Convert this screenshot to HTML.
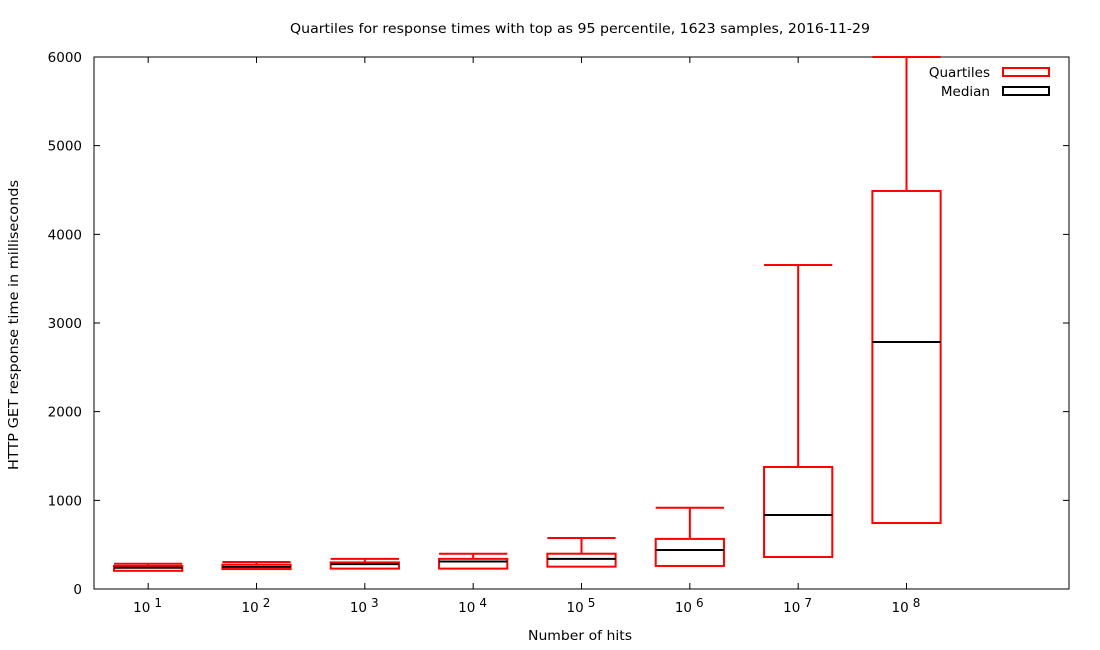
<!DOCTYPE html>
<html><head><meta charset="utf-8">
<style>
body{margin:0;background:#fff;}
svg{display:block;font-family:"DejaVu Sans","Liberation Sans",sans-serif;font-size:13.5px;}
</style></head>
<body>
<svg id="chart" width="1100" height="650" xmlns="http://www.w3.org/2000/svg">
<rect x="0" y="0" width="1100" height="650" fill="#fff"/>
<text x="290" y="33" textLength="580" lengthAdjust="spacingAndGlyphs">Quartiles for response times with top as 95 percentile, 1623 samples, 2016-11-29</text>
<text transform="translate(18,470) rotate(-90)" textLength="290" lengthAdjust="spacingAndGlyphs">HTTP GET response time in milliseconds</text>
<text x="528" y="640" textLength="104" lengthAdjust="spacingAndGlyphs">Number of hits</text>
<g id="axes"></g>
<g id="marks"></g>
<g>
<text x="990" y="77" text-anchor="end">Quartiles</text>
<rect x="1003" y="68" width="46" height="8" fill="none" stroke="#f00" stroke-width="2"/>
<text x="990" y="96" text-anchor="end">Median</text>
<rect x="1003" y="87" width="46" height="8" fill="none" stroke="#000" stroke-width="2"/>
</g>
</svg>
<script>
const exponents=[1,2,3,4,5,6,7,8];
const q1=[205,225,230,230,252,260,361,744];
const median=[240,250,280,310,340,440,835,2786];
const q3=[260,275,300,340,398,565,1376,4489];
const top95=[285,305,340,398,575,917,3654,6000];
const yTicks=[0,1000,2000,3000,4000,5000,6000];

const L=94,R=1069,T=57,B=589;
const xS=v=>L+(v-0.5)/9*(R-L);
const yS=v=>B-v/6000*(B-T);
const NS="http://www.w3.org/2000/svg";
const axes=document.getElementById('axes'),marks=document.getElementById('marks');
function mk(tag,attrs,parent){const e=document.createElementNS(NS,tag);for(const k in attrs)e.setAttribute(k,attrs[k]);parent.appendChild(e);return e;}

const frame=mk('rect',{x:L,y:T,width:R-L,height:B-T,fill:'none',stroke:'#000','stroke-width':1},axes);


yTicks.forEach(v=>{
  const y=yS(v);
  const t=mk('path',{d:`M${L} ${y}h6M${R} ${y}h-6`,stroke:'#000'},axes);
  
  
  const lb=mk('text',{x:L-12,y:y+5,'text-anchor':'end'},axes);
  lb.textContent=v;
  
  
});
exponents.forEach((e,i)=>{
  const x=xS(i+1);
  const t=mk('path',{d:`M${x} ${B}v-6M${x} ${T}v6`,stroke:'#000'},axes);
  
  
  const lb=mk('text',{x:x-15,y:612},axes);
  lb.innerHTML='10<tspan dx="4" dy="-5" font-size="12">'+e+'</tspan>';
  
  
});
const hw=(R-L)/9*0.315;
exponents.forEach((e,i)=>{
  const x=xS(i+1);
  const g=mk('g',{},marks);
  
  
  const w=mk('path',{d:`M${x} ${yS(q3[i])}V${yS(top95[i])}M${x-hw} ${yS(top95[i])}H${x+hw}`,stroke:'#f00','stroke-width':2,fill:'none'},g);
  
  
  const b=mk('rect',{x:x-hw,y:yS(q3[i]),width:2*hw,height:yS(q1[i])-yS(q3[i]),fill:'none',stroke:'#f00','stroke-width':2},g);
  
  
  const m=mk('path',{d:`M${x-hw} ${yS(median[i])}H${x+hw}`,stroke:'#000','stroke-width':2},g);
  
  
});
</script>
</body></html>
